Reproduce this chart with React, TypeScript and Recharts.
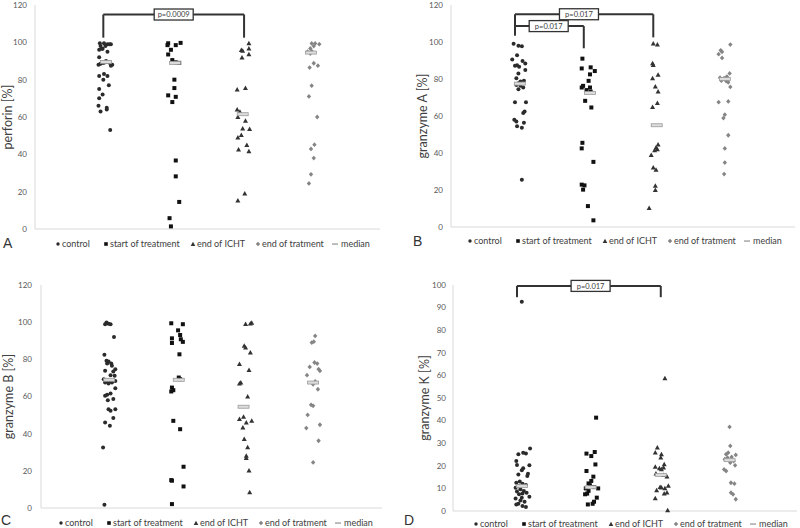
import React from "react";
import {
  ScatterChart,
  Scatter,
  XAxis,
  YAxis,
  Legend,
  ReferenceLine,
  ReferenceDot,
} from "recharts";

type Pt = [number, number];

// x = group position (1..4) with the jitter, y = value in %
const groupNames = ["control", "start of treatment", "end of ICHT", "end of tratment", "median"];

const perforinControl: Pt[] = [[0.94,99.5],[1.0,99.5],[1.05,99],[1.1,99],[0.95,98],[1.02,98],[0.98,96.5],[0.93,96],[1.05,95],[0.97,96.5],[1.08,99],[0.93,92],[0.92,88],[0.98,89],[1.03,90],[1.08,89],[1.12,88],[1.05,89.5],[1.0,89],[0.95,88.5],[1.1,87.5],[0.93,82],[1.0,83],[1.05,82],[0.99,80],[1.07,77],[0.93,75],[0.98,72],[0.93,70],[1.04,65],[0.92,66],[0.95,63],[1.04,64],[1.09,53]];
const perforinStart: Pt[] = [[1.93,99.5],[1.92,98.5],[2.04,98.5],[2.11,99.7],[1.97,96],[1.93,93.5],[1.99,90.5],[2.04,89.3],[2.09,89],[2.02,80],[2.02,75.5],[1.93,71.6],[2.04,70.8],[1.99,68],[2.04,36.7],[2.04,28.2],[2.09,14.5],[1.95,5.8],[1.97,1.4]];
const perforinIcht: Pt[] = [[3.1,99.4],[2.99,95.8],[3.01,95.5],[3.1,96.7],[3.1,93.5],[3.0,91.8],[2.93,74.7],[3.05,75.5],[2.93,64],[2.97,62.7],[2.94,60],[3.05,57.9],[3.01,53.8],[3.11,53.5],[2.94,49],[2.99,50.3],[3.07,45],[2.95,42.5],[3.1,41.6],[3.04,19],[2.94,15.2]];
const perforinEnd: Pt[] = [[4.01,99.4],[4.06,99.4],[4.12,99],[4.04,98],[3.99,96.7],[3.95,95],[4.01,95.3],[3.99,94],[4.04,88.8],[4.1,87.5],[3.98,86.5],[4.01,76.8],[3.97,71],[4.09,60],[4.05,45.2],[4.0,42.9],[4.04,38],[4.0,29.3],[3.97,24.4]];
const perforinMedian: Pt[] = [[1.03,89.5],[2.03,89],[3.01,61.5],[4.0,94.5]];

const gzmAControl: Pt[] = [[0.91,99.1],[0.98,98],[1.03,97.7],[0.96,92.9],[0.89,90.5],[1.04,89.7],[1.08,88.4],[0.96,87.5],[0.99,86.6],[0.93,87.1],[1.08,84.8],[0.98,83],[0.95,80.4],[1.06,79],[1.01,78.6],[0.98,77.7],[0.95,76.8],[1.01,76.4],[1.05,75.4],[0.98,74.5],[0.93,67.5],[1.09,67.5],[1.07,62.5],[1.05,61.6],[0.92,58],[0.95,57],[1.06,56.3],[0.96,54.5],[1.03,53.6],[1.03,25.5]];
const gzmAStart: Pt[] = [[1.91,91],[1.9,85.7],[2.03,86.3],[2.09,84.3],[2.02,82.5],[2.0,79],[1.9,75.4],[1.92,76.3],[1.97,74],[2.02,75.4],[2.03,73.2],[1.95,68.2],[2.04,64.6],[1.91,45.5],[1.9,42.5],[2.07,35.2],[1.9,22.9],[1.94,22.5],[1.92,20.2],[1.99,11.3],[2.07,3.6]];
const gzmAIcht: Pt[] = [[2.94,99.1],[3.0,98.6],[2.93,88.4],[2.94,87.5],[3.01,82.2],[2.93,80.4],[2.97,75.9],[3.01,73.2],[3.0,67],[2.93,64.8],[3.01,44.6],[2.98,42.9],[3.0,42],[2.96,41.4],[2.91,38.9],[2.94,32.1],[2.98,30.9],[2.97,22.3],[2.97,20],[2.88,10.2]];
const gzmAEnd: Pt[] = [[4.06,98.6],[3.92,95.5],[3.94,94.7],[3.89,93.4],[3.94,91.4],[4.05,83],[4.01,81.3],[3.91,80.7],[3.97,80.4],[3.93,79.1],[4.0,78.9],[4.03,78.2],[4.06,75.7],[3.89,67.5],[4.03,67.9],[3.98,60.7],[3.96,58.9],[4.03,49.6],[3.98,42.5],[3.98,34.8],[3.97,28.6]];
const gzmAMedian: Pt[] = [[1.0,77.5],[2.02,72.5],[2.99,55],[3.98,80]];

const gzmBControl: Pt[] = [[0.96,99.8],[0.99,99.2],[1.02,98.9],[0.94,98.9],[1.07,92],[0.93,82.4],[0.96,79.2],[0.99,78.8],[1.03,77.7],[0.97,77.7],[1.04,76.5],[1.09,74.7],[0.94,73.8],[1.06,73.4],[1.02,71.5],[1.08,71.1],[0.92,69.3],[0.98,68.8],[1.02,68.4],[0.94,67.5],[1.09,68.4],[0.99,67],[1.04,67.5],[1.09,64.5],[0.97,60.9],[1.02,61.6],[0.94,60.4],[0.98,58],[1.06,58.6],[0.99,53.2],[1.09,53.2],[1.02,52.3],[0.94,46],[1.06,48.4],[1.01,44.2],[0.91,32.6],[0.93,1.8]];
const gzmBStart: Pt[] = [[1.91,99.4],[2.08,98.9],[2.01,95.6],[2.04,93.1],[1.92,91.3],[2.05,90.8],[2.08,89.4],[1.92,88.8],[2.03,82.7],[2.02,70.2],[2.04,69.3],[1.92,64.8],[1.94,63.4],[1.91,62.7],[1.94,46.9],[2.04,42.4],[2.09,22.2],[1.91,15],[1.92,14.7],[2.09,11.6],[1.92,2.1]];
const gzmBIcht: Pt[] = [[3.0,98.9],[3.07,99.2],[3.09,99.6],[2.98,87.2],[3.0,86.3],[3.07,83.6],[2.91,77.4],[3.05,74.2],[2.93,67.5],[2.91,67],[3.03,60],[2.91,47.8],[2.97,49],[3.01,46],[3.09,46.9],[2.96,43.3],[2.98,37.1],[3.03,32.6],[3.01,28.1],[3.01,26.9],[3.05,20.1],[3.06,8.4]];
const gzmBEnd: Pt[] = [[4.02,92.6],[4.0,89.5],[3.97,89],[3.94,75.9],[4.01,78.3],[4.05,77.7],[4.07,74.7],[4.09,73.8],[3.9,71.5],[3.99,67],[4.02,68.1],[3.99,66.6],[4.06,63.9],[3.96,55.5],[3.99,55],[3.91,50.1],[3.89,43],[4.09,44.8],[4.07,36.2],[3.99,24.5]];
const gzmBMedian: Pt[] = [[1.0,69],[2.02,69],[2.97,54.5],[3.99,67.5]];

const gzmKControl: Pt[] = [[1.0,92.6],[1.12,27.6],[0.95,25.1],[1.02,25.8],[1.06,25.4],[0.92,22.1],[0.93,20.4],[1.11,20.2],[1.02,18.9],[1.0,18],[1.09,16.5],[0.95,16.2],[1.08,15.5],[0.92,12.5],[0.97,13],[1.01,12.1],[1.06,11.5],[0.95,11.1],[0.91,10.3],[0.98,9.6],[1.03,8.9],[0.93,8.6],[1.07,8.1],[0.96,7.4],[1.01,7.7],[1.11,6.3],[0.91,5.5],[0.98,4.7],[1.04,4.1],[0.95,3.2],[1.01,2.2],[1.06,1.8],[0.92,2.9],[1.0,5.9]];
const gzmKStart: Pt[] = [[2.08,41.3],[1.94,25.4],[2.06,26.1],[2.01,24.3],[2.07,20.6],[1.94,17.7],[2.04,15.2],[2.01,13.3],[1.97,12.2],[1.99,11.4],[1.93,10],[2.11,10],[2.05,10.6],[1.97,8.9],[1.92,7.4],[1.95,7.7],[2.09,5.9],[2.05,4.1],[1.96,2.9],[2.03,3.2]];
const gzmKIcht: Pt[] = [[3.08,58.7],[2.97,28],[2.94,25.8],[3.03,25.1],[3.02,23.6],[3.07,20.6],[2.94,19.5],[3.0,18.9],[3.03,18.4],[3.06,19.2],[2.95,16.5],[3.06,15.9],[3.11,15.2],[3.13,11.1],[3.03,10.3],[3.08,10],[2.96,9.1],[3.11,8.1],[3.07,7.7],[2.94,5.6],[3.12,0.3],[3.01,10.6]];
const gzmKEnd: Pt[] = [[4.02,37.2],[4.03,28.8],[4.0,25.8],[3.97,25.1],[4.11,24.8],[4.05,23.9],[3.95,22.9],[3.99,23.6],[4.08,22.1],[4.03,21.4],[4.1,20.2],[3.94,18.4],[3.97,17.7],[4.04,12.5],[4.09,12.1],[4.04,8.1],[4.07,7.4],[4.11,5.2]];
const gzmKMedian: Pt[] = [[1.0,11],[2.0,10.5],[3.02,16],[4.02,22.5]];

const ticks120 = [0, 20, 40, 60, 80, 100, 120];
const ticks100 = [0, 10, 20, 30, 40, 50, 60, 70, 80, 90, 100];

// significance brackets: from/to = group x, top = bar height, legs end at leftEnd/rightEnd
interface Bracket { from: number; to: number; top: number; leftEnd: number; rightEnd: number; labelX: number; text: string }
const perforinBrackets: Bracket[] = [
  { from: 0.99, to: 3.03, top: 114.9, leftEnd: 102.5, rightEnd: 102.5, labelX: 2.01, text: "p=0.0009" },
];
const gzmABrackets: Bracket[] = [
  { from: 0.93, to: 2.94, top: 115, leftEnd: 103.4, rightEnd: 102.5, labelX: 1.86, text: "p=0.017" },
  { from: 0.93, to: 1.93, top: 108.6, leftEnd: 108.6, rightEnd: 96.6, labelX: 1.42, text: "p=0.017" },
];
const gzmKBrackets: Bracket[] = [
  { from: 0.93, to: 3.02, top: 99.6, leftEnd: 94.6, rightEnd: 94.6, labelX: 2.0, text: "p=0.017" },
];

const FONT = "Lato, 'Open Sans', sans-serif";
const toPoints = (pts: Pt[]) => pts.map(([x, y]) => ({ x, y }));

const CircleMark = (p: any) => <circle cx={p.cx} cy={p.cy} r={2} fill="#2b2b2b" />;
const SquareMark = (p: any) => <rect x={p.cx - 2} y={p.cy - 2} width={4} height={4} fill="#111" />;
const TriMark = (p: any) => (
  <polygon points={`${p.cx},${p.cy - 2.6} ${p.cx + 2.5},${p.cy + 1.9} ${p.cx - 2.5},${p.cy + 1.9}`} fill="#333" />
);
const DiamondMark = (p: any) => (
  <polygon points={`${p.cx},${p.cy - 2.4} ${p.cx + 2.2},${p.cy} ${p.cx},${p.cy + 2.4} ${p.cx - 2.2},${p.cy}`} fill="#858585" />
);
const MedianMark = (p: any) => (
  <rect x={p.cx - 5.5} y={p.cy - 1.5} width={11} height={3} fill="#dcdcdc" stroke="#9a9a9a" strokeWidth={0.8} />
);

const legendOffsets = [0, 48, 135, 200, 277];

const LegendIcon = ({ i }: { i: number }) => (
  <svg width={6} height={6} style={{ position: "absolute", left: 0, top: 3 }}>
    {i === 0 && <circle cx={3} cy={3} r={1.7} fill="#2b2b2b" />}
    {i === 1 && <rect x={1.2} y={1.2} width={3.6} height={3.6} fill="#111" />}
    {i === 2 && <polygon points="3,0.8 5.3,5 0.7,5" fill="#333" />}
    {i === 3 && <polygon points="3,0.8 5.2,3 3,5.2 0.8,3" fill="#858585" />}
    {i === 4 && <rect x={0} y={2.4} width={6} height={1.3} fill="#9a9a9a" />}
  </svg>
);

const LegendBox = () => (
  <div style={{ position: "relative", width: 330, height: 12, fontFamily: FONT, fontSize: 9, color: "#404040" }}>
    {groupNames.map((name, i) => (
      <div key={name} style={{ position: "absolute", left: legendOffsets[i], top: 0, height: 12, lineHeight: "12px", whiteSpace: "nowrap" }}>
        <LegendIcon i={i} />
        <span style={{ marginLeft: i === 4 ? 9 : 7 }}>{name}</span>
      </div>
    ))}
  </div>
);

interface PanelProps {
  left: number;
  top: number;
  margin: { top: number; right: number; bottom: number; left: number };
  max: number;
  ticks: number[];
  tickGap: number;
  yLabel: string;
  labelX: number;
  letter: string;
  letterTop: number;
  letterLeft: number;
  legendLeft: number;
  legendTop: number;
  control: Pt[];
  start: Pt[];
  icht: Pt[];
  end: Pt[];
  median: Pt[];
  brackets: Bracket[];
}

const AXIS_W = 30;

const Panel = (c: PanelProps) => {
  const labelOffset = c.labelX - c.margin.left;
  return (
    <div style={{ position: "absolute", left: c.left, top: c.top, width: 400, height: 264 }}>
      <ScatterChart width={400} height={264} margin={c.margin}>
        <XAxis type="number" dataKey="x" domain={[0, 5]} tick={false} tickLine={false} height={5} axisLine={{ stroke: "#d9d9d9" }} />
        <YAxis
          type="number"
          dataKey="y"
          domain={[0, c.max]}
          ticks={c.ticks}
          interval={0}
          width={AXIS_W}
          tickSize={0}
          tickMargin={c.tickGap}
          axisLine={{ stroke: "#d9d9d9" }}
          tickLine={false}
          tick={{ fontSize: 8, fill: "#595959", fontFamily: FONT }}
          label={{
            value: c.yLabel,
            angle: -90,
            position: "insideLeft",
            offset: labelOffset,
            fill: "#404040",
            style: { textAnchor: "middle", fontSize: 12.5, fill: "#404040", fontFamily: FONT },
          }}
        />
        {c.brackets.map((b, i) => (
          <ReferenceLine key={`h${i}`} segment={[{ x: b.from, y: b.top }, { x: b.to, y: b.top }]} stroke="#333" strokeWidth={2} ifOverflow="visible" />
        ))}
        {c.brackets.map((b, i) => (
          <ReferenceLine key={`l${i}`} segment={[{ x: b.from, y: b.leftEnd }, { x: b.from, y: b.top }]} stroke="#333" strokeWidth={2} ifOverflow="visible" />
        ))}
        {c.brackets.map((b, i) => (
          <ReferenceLine key={`r${i}`} segment={[{ x: b.to, y: b.rightEnd }, { x: b.to, y: b.top }]} stroke="#333" strokeWidth={2} ifOverflow="visible" />
        ))}
        {c.brackets.map((b, i) => (
          <ReferenceDot
            key={`t${i}`}
            x={b.labelX}
            y={b.top}
            ifOverflow="visible"
            shape={(p: any) => (
              <g>
                <rect x={p.cx - 19.5} y={p.cy - 5.5} width={39} height={11} fill="#fff" stroke="#333" strokeWidth={1.3} />
                <text x={p.cx} y={p.cy + 2.8} textAnchor="middle" fontSize={7.5} fontFamily={FONT} fill="#404040">
                  {b.text}
                </text>
              </g>
            )}
          />
        ))}
        <Scatter name={groupNames[0]} data={toPoints(c.control)} shape={CircleMark} isAnimationActive={false} />
        <Scatter name={groupNames[1]} data={toPoints(c.start)} shape={SquareMark} isAnimationActive={false} />
        <Scatter name={groupNames[2]} data={toPoints(c.icht)} shape={TriMark} isAnimationActive={false} />
        <Scatter name={groupNames[3]} data={toPoints(c.end)} shape={DiamondMark} isAnimationActive={false} />
        <Scatter name={groupNames[4]} data={toPoints(c.median)} shape={MedianMark} isAnimationActive={false} />
        <Legend
          layout="horizontal"
          verticalAlign="middle"
          align="center"
          wrapperStyle={{ left: c.legendLeft, top: c.legendTop, width: 330, height: 12, bottom: "auto" }}
          content={() => <LegendBox />}
        />
      </ScatterChart>
      <div
        style={{
          position: "absolute",
          left: c.letterLeft,
          top: c.letterTop,
          fontFamily: "'Liberation Sans', Arial, sans-serif",
          fontSize: 14,
          lineHeight: "14px",
          color: "#333",
        }}
      >
        {c.letter}
      </div>
    </div>
  );
};

export default function App() {
  return (
    <div style={{ position: "absolute", left: 0, top: 0, width: 800, height: 528, background: "#fff", overflow: "hidden" }}>
      <Panel
        left={0} top={0}
        margin={{ top: 5, right: 20, bottom: 30, left: 5 }}
        max={120} ticks={ticks120} tickGap={8}
        yLabel="perforin [%]" labelX={8}
        letter="A" letterLeft={3} letterTop={236}
        legendLeft={55} legendTop={238}
        control={perforinControl} start={perforinStart} icht={perforinIcht} end={perforinEnd} median={perforinMedian}
        brackets={perforinBrackets}
      />
      <Panel
        left={400} top={0}
        margin={{ top: 5, right: 5, bottom: 32, left: 21 }}
        max={120} ticks={ticks120} tickGap={8}
        yLabel="granzyme A [%]" labelX={22.5}
        letter="B" letterLeft={13} letterTop={234}
        legendLeft={67} legendTop={235}
        control={gzmAControl} start={gzmAStart} icht={gzmAIcht} end={gzmAEnd} median={gzmAMedian}
        brackets={gzmABrackets}
      />
      <Panel
        left={0} top={264}
        margin={{ top: 21, right: 18, bottom: 15, left: 11 }}
        max={120} ticks={ticks120} tickGap={9}
        yLabel="granzyme B [%]" labelX={9}
        letter="C" letterLeft={1} letterTop={249}
        legendLeft={58} legendTop={253}
        control={gzmBControl} start={gzmBStart} icht={gzmBIcht} end={gzmBEnd} median={gzmBMedian}
        brackets={[]}
      />
      <Panel
        left={400} top={264}
        margin={{ top: 21, right: 3, bottom: 12, left: 23 }}
        max={100} ticks={ticks100} tickGap={7}
        yLabel="granzyme K [%]" labelX={25}
        letter="D" letterLeft={4} letterTop={249}
        legendLeft={73} legendTop={254}
        control={gzmKControl} start={gzmKStart} icht={gzmKIcht} end={gzmKEnd} median={gzmKMedian}
        brackets={gzmKBrackets}
      />
    </div>
  );
}
